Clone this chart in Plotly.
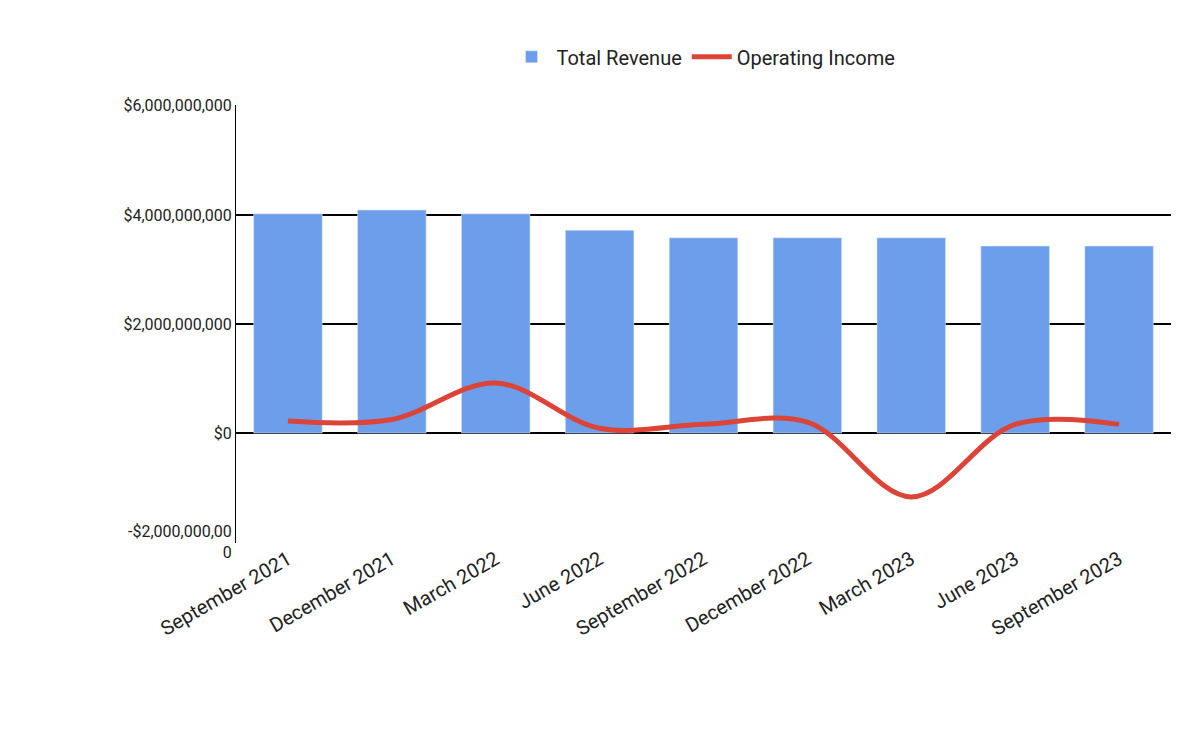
import plotly.graph_objects as go

quarters = ["September 2021", "December 2021", "March 2022", "June 2022",
            "September 2022", "December 2022", "March 2023", "June 2023",
            "September 2023"]
total_revenue = [4.02e9, 4.09e9, 4.02e9, 3.72e9, 3.58e9, 3.58e9, 3.58e9, 3.43e9, 3.43e9]
operating_income = [0.22e9, 0.25e9, 0.92e9, 0.09e9, 0.16e9, 0.2e9, -1.17e9, 0.16e9, 0.16e9]

tick_vals = [-2e9, 0, 2e9, 4e9, 6e9]
tick_text = ["-$2,000,000,00<br>0", "$0", "$2,000,000,000", "$4,000,000,000", "$6,000,000,000"]

fig = go.Figure()
fig.add_trace(go.Bar(x=quarters, y=total_revenue, name="Total Revenue",
                     marker_color="#6d9eeb", width=0.66))
fig.add_trace(go.Scatter(x=quarters, y=operating_income, name="Operating Income",
                         mode="lines", line=dict(color="#db4437", width=5, shape="spline")))

fig.update_layout(
    width=1200, height=741,
    paper_bgcolor="white", plot_bgcolor="white",
    font=dict(family="Roboto", size=16, color="#222"),
    margin=dict(l=228, r=37, t=97, b=206),
    legend=dict(orientation="h", x=0.5, xanchor="center", y=1.11, yanchor="middle",
                font=dict(size=20), itemwidth=40, traceorder="normal"),
    xaxis=dict(tickangle=-30, tickfont=dict(size=20), showgrid=False, automargin=False),
    yaxis=dict(range=[-2.015e9, 6.015e9], tickvals=tick_vals, ticktext=tick_text,
               gridcolor="black", gridwidth=1.5, zeroline=False, ticks="",
               showline=True, linecolor="black", tickfont=dict(size=16),
               automargin=False),
)
fig.write_html("out.html")
